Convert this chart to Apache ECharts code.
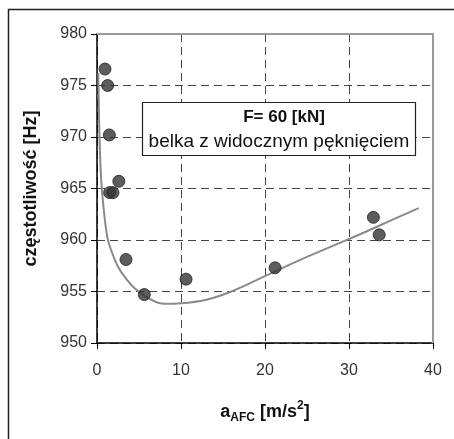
<!DOCTYPE html>
<html>
<head>
<meta charset="utf-8">
<script src="https://cdn.jsdelivr.net/npm/echarts@6/dist/echarts.min.js"></script>
<style>
  html, body { margin: 0; padding: 0; background: #fff; }
  #chart { width: 454px; height: 439px; }
</style>
</head>
<body>
<div id="chart"></div>
<script>
// measured points (a_AFC [m/s2], frequency [Hz])
const pointX = [0.95, 1.27, 1.47, 1.5, 1.9, 2.6, 3.45, 5.63, 10.6, 21.2, 32.9, 33.6];
const pointY = [976.6, 975.0, 970.2, 964.6, 964.6, 965.7, 958.1, 954.7, 956.2, 957.3, 962.2, 960.5];

// trend line
const trendX = [0.15, 0.27, 0.48, 0.8, 1.2, 1.6, 2.5, 3.5, 4.5, 6, 8, 10, 13, 16, 20, 24, 28, 32, 35, 38.3];
const trendY = [976.2, 971.0, 966.1, 963.0, 960.4, 959.2, 957.4, 956.2, 955.3, 954.4, 953.8, 953.85, 954.2, 955.0, 956.5, 958.0, 959.4, 960.8, 961.9, 963.1];

const xTicks = [0, 10, 20, 30, 40];
const yTicks = [950, 955, 960, 965, 970, 975, 980];

const boxTitle = 'F= 60 [kN]';
const boxText = 'belka z widocznym pęknięciem';

const font = 'Liberation Sans, Arial, sans-serif';
const G = { left: 97, right: 21, top: 34, bottom: 96 };

const chart = echarts.init(document.getElementById('chart'));

const option = {
  animation: false,
  backgroundColor: '#fff',
  textStyle: { fontFamily: font },
  grid: { left: G.left, right: G.right, top: G.top, bottom: G.bottom },
  xAxis: {
    type: 'value',
    min: xTicks[0],
    max: xTicks[xTicks.length - 1],
    interval: 10,
    name: '{a|a}{sub|AFC}{a| [m/s}{sup|2}{a|]}',
    nameLocation: 'middle',
    nameGap: 57,
    nameTextStyle: {
      rich: {
        a: { fontSize: 18, fontWeight: 'bold', color: '#111', lineHeight: 24, fontFamily: font },
        sub: { fontSize: 12, fontWeight: 'bold', color: '#111', lineHeight: 15, verticalAlign: 'bottom', fontFamily: font },
        sup: { fontSize: 12, fontWeight: 'bold', color: '#111', lineHeight: 13, verticalAlign: 'top', fontFamily: font }
      }
    },
    axisLine: { onZero: false, lineStyle: { color: '#000', width: 1.5 } },
    axisTick: { show: true, inside: false, length: 6, lineStyle: { color: '#000' } },
    axisLabel: { margin: 20, fontSize: 16, color: '#333', fontFamily: font },
    splitLine: { show: true, lineStyle: { color: '#444', type: [8, 5], width: 1 } }
  },
  yAxis: {
    type: 'value',
    min: yTicks[0],
    max: yTicks[yTicks.length - 1],
    interval: 5,
    name: 'częstotliwość [Hz]',
    nameLocation: 'middle',
    nameGap: 57,
    nameRotate: 90,
    nameTextStyle: { fontSize: 18, fontWeight: 'bold', color: '#111', fontFamily: font },
    axisLine: { show: true, onZero: false, lineStyle: { color: '#000', width: 1.5 } },
    axisTick: { show: true, inside: false, length: 6, lineStyle: { color: '#000' } },
    axisLabel: { margin: 10, fontSize: 16, color: '#333', fontFamily: font },
    splitLine: { show: true, lineStyle: { color: '#444', type: [8, 5], width: 1 } }
  },
  series: [
    {
      type: 'line',
      data: trendX.map((x, i) => [x, trendY[i]]),
      smooth: 0.4,
      showSymbol: false,
      lineStyle: { color: '#8a8a8a', width: 2 },
      z: 2
    },
    {
      type: 'scatter',
      data: pointX.map((x, i) => [x, pointY[i]]),
      symbolSize: 12,
      itemStyle: { color: '#353535', borderColor: '#222', borderWidth: 1 },
      z: 3
    }
  ],
  graphic: [
    // outer frame (left and top edges visible)
    {
      type: 'rect', z: 100, silent: true,
      shape: { x: 8.5, y: 9.5, width: 470, height: 450 },
      style: { fill: null, stroke: '#222', lineWidth: 1.5 }
    },
    // plot area border (top and right in gray)
    {
      type: 'polyline', z: 100, silent: true,
      shape: { points: [[G.left, G.top], [454 - G.right, G.top], [454 - G.right, 439 - G.bottom]] },
      style: { fill: null, stroke: '#9a9a9a', lineWidth: 2 }
    },
    // annotation box
    {
      type: 'rect', z: 110, silent: true,
      shape: { x: 142.5, y: 102.5, width: 273, height: 53 },
      style: { fill: '#fff', stroke: '#222', lineWidth: 1.2 }
    },
    {
      type: 'text', z: 111, silent: true,
      style: { x: 284, y: 117, text: boxTitle, align: 'center', verticalAlign: 'middle',
               font: 'bold 17px ' + font, fill: '#111' }
    },
    {
      type: 'text', z: 111, silent: true,
      style: { x: 279, y: 142, text: boxText, align: 'center', verticalAlign: 'middle',
               font: '19px ' + font, fill: '#111' }
    }
  ]
};

chart.setOption(option);
</script>
</body>
</html>
